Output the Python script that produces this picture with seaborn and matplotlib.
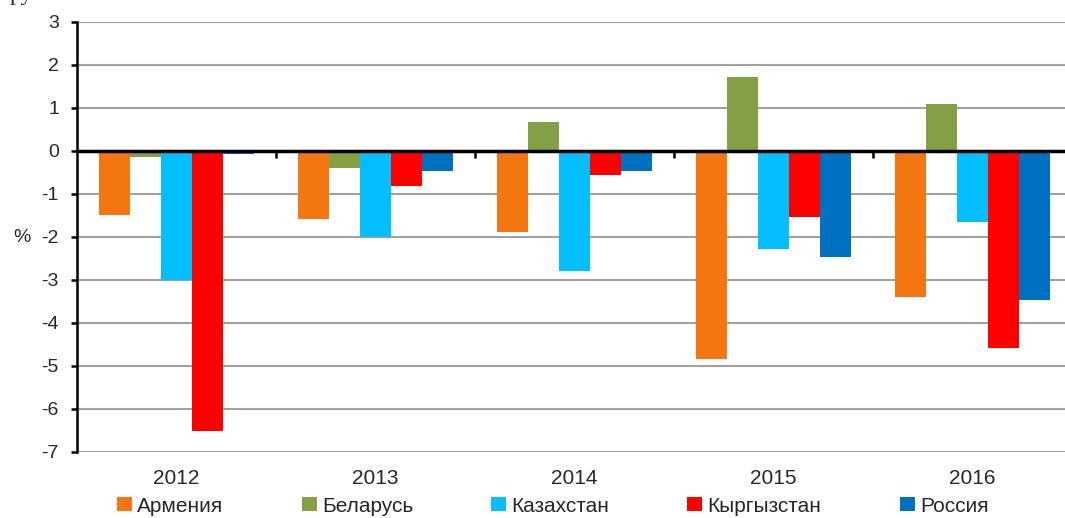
import pandas as pd
import matplotlib
matplotlib.use("Agg")
import matplotlib.pyplot as plt
import seaborn as sns

# Values (%)
years = ["2012", "2013", "2014", "2015", "2016"]
countries = ["Армения", "Беларусь", "Казахстан", "Кыргызстан", "Россия"]
armenia = [-1.50, -1.58, -1.89, -4.84, -3.40]
belarus = [-0.14, -0.40, 0.67, 1.72, 1.09]
kazakhstan = [-3.00, -2.00, -2.78, -2.28, -1.66]
kyrgyzstan = [-6.52, -0.82, -0.55, -1.54, -4.58]
russia = [-0.07, -0.47, -0.46, -2.46, -3.47]
colors = ["#F47611", "#84A044", "#05BEFE", "#FF0000", "#0070C0"]
y_ticks = list(range(-7, 4))

series = [armenia, belarus, kazakhstan, kyrgyzstan, russia]
rows = []
for name, vals in zip(countries, series):
    for yr, v in zip(years, vals):
        rows.append({"year": yr, "country": name, "value": v})
df = pd.DataFrame(rows)

sns.set_style("white")
plt.rcParams["font.family"] = ["Liberation Sans", "DejaVu Sans"]

fig = plt.figure(figsize=(10.65, 5.18), dpi=100)
ax = fig.add_axes([77 / 1065, 1 - 452 / 518, 995 / 1065, 430 / 518])

sns.barplot(data=df, x="year", y="value", hue="country", hue_order=countries,
            palette=colors, saturation=1, width=0.78, gap=0, linewidth=0,
            errorbar=None, ax=ax, zorder=3)

ax.set_xlim(-0.5, 4.5)
ax.set_ylim(-7, 3)
ax.set_yticks(y_ticks)
ax.set_yticklabels([str(t) for t in y_ticks], fontsize=14)
ax.set_xlabel("")
ax.set_ylabel("")

# gridlines
for t in y_ticks:
    ax.axhline(t, color="#A0A0A0", lw=1.5, zorder=1)
ax.axhline(0, color="black", lw=2.5, zorder=4)

for s in ["top", "right", "bottom"]:
    ax.spines[s].set_visible(False)
ax.spines["left"].set_color("black")
ax.spines["left"].set_linewidth(1.8)
ax.tick_params(axis="y", left=True, length=4, width=1.8, color="black", pad=9)
ax.tick_params(axis="x", bottom=False, length=0, pad=12, labelsize=15)

# category separator ticks on the zero line (pointing down)
sec = ax.secondary_xaxis(0.7)
sec.set_xticks([0.5, 1.5, 2.5, 3.5], labels=["", "", "", ""])
sec.tick_params(direction="in", length=5, width=1.8, color="black")
sec.spines["bottom"].set_visible(False)
sec.spines["top"].set_visible(False)

fig.text(22 / 1065, 1 - 237 / 518, "%", fontsize=14, ha="center", va="center")
fig.text(10 / 1065, 1.0, "рублей.", fontsize=17, family="Liberation Serif",
         ha="left", va="baseline")

handles, labels = ax.get_legend_handles_labels()
ax.get_legend().remove()
fig.legend(handles, labels, loc="center left", bbox_to_anchor=(117 / 1065, 1 - 506 / 518),
           ncol=5, frameon=False, fontsize=15, handlelength=0.72, handleheight=0.68,
           handletextpad=0.25, columnspacing=3.75, borderaxespad=0, borderpad=0)

fig.savefig("out.png", dpi=100)
